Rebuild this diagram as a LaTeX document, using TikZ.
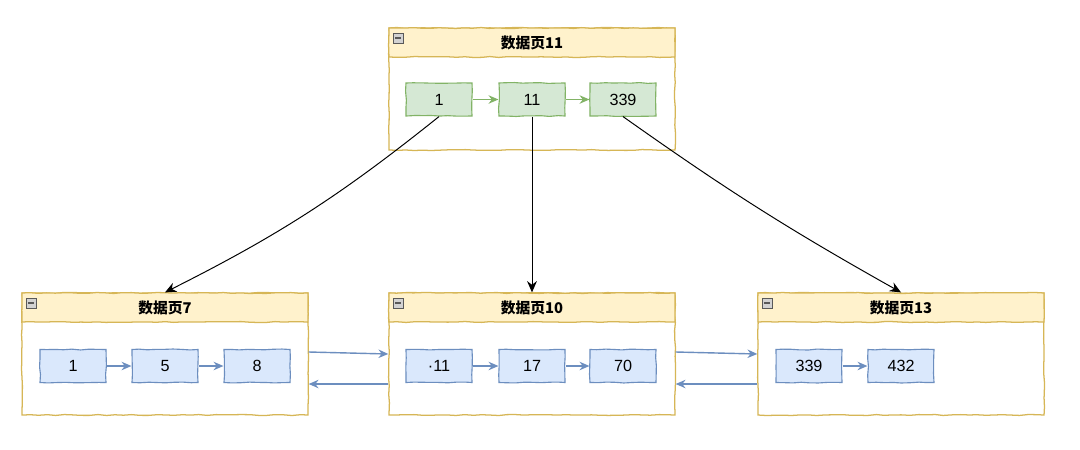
\documentclass[tikz,border=0pt]{standalone}
\usepackage{fontspec}
\setmainfont{Liberation Sans}
\newfontfamily\cjk{Noto Sans CJK SC}
\usetikzlibrary{arrows.meta,decorations.pathmorphing}
\definecolor{pageline}{HTML}{D6B656}
\definecolor{pagehead}{HTML}{FFF2CC}
\definecolor{greenfill}{HTML}{D5E8D4}
\definecolor{greenline}{HTML}{82B366}
\definecolor{bluefill}{HTML}{DAE8FC}
\definecolor{blueline}{HTML}{6C8EBF}
\begin{document}
\begin{tikzpicture}[x=0.025cm,y=-0.025cm,
    sketch/.style={decoration={random steps,segment length=6pt,amplitude=0.35pt},decorate},
    page node/.style={rectangle,draw=pageline,fill=white,line width=0.9pt,sketch,minimum width=7.15cm,minimum height=3.05cm,inner sep=0pt},
    head node/.style={rectangle,draw=pageline,fill=pagehead,line width=0.9pt,sketch,minimum width=7.15cm,minimum height=0.725cm,inner sep=0pt,font=\cjk\bfseries\fontsize{10.5}{12}\selectfont},
    green node/.style={rectangle,draw=greenline,fill=greenfill,line width=0.8pt,sketch,minimum width=1.65cm,minimum height=0.825cm,font=\fontsize{11.5}{13}\selectfont},
    blue node/.style={rectangle,draw=blueline,fill=bluefill,line width=0.8pt,sketch,minimum width=1.65cm,minimum height=0.825cm,font=\fontsize{11.5}{13}\selectfont},
    minus node/.style={rectangle,draw=gray!70!black,fill=gray!35,line width=0.4pt,minimum size=0.24cm,inner sep=0pt,
        path picture={\draw[line width=0.8pt] ([xshift=1.5pt]path picture bounding box.west) -- ([xshift=-1.5pt]path picture bounding box.east);}},
    green arrow/.style={color=greenline,line width=1pt,-{Stealth[length=7pt,width=6pt]}},
    blue arrow/.style={color=blueline,line width=1pt,-{Stealth[length=7pt,width=6pt]}},
    black arrow/.style={color=black,line width=0.7pt,-{Stealth[length=8pt,width=7pt]}}]
    \useasboundingbox (0,0) rectangle (1080,449);

    % pages
    \node[page node] at (532, 89) (p11) {};
    \node[head node] at (532, 42.5) (h11) {数据页11};
    \node[page node] at (165, 354) (p7) {};
    \node[head node] at (165, 307.5) (h7) {数据页7};
    \node[page node] at (532, 354) (p10) {};
    \node[head node] at (532, 307.5) (h10) {数据页10};
    \node[page node] at (901, 354) (p13) {};
    \node[head node] at (901, 307.5) (h13) {数据页13};
    \node[minus node] at (398, 38) (m11) {};
    \node[minus node] at (31, 303) (m7) {};
    \node[minus node] at (398, 303) (m10) {};
    \node[minus node] at (767, 303) (m13) {};

    % records
    \node[green node] at (439, 99.5) (a1) {1};
    \node[green node] at (532, 99.5) (a2) {11};
    \node[green node] at (623, 99.5) (a3) {339};
    \node[blue node] at (73, 366) (b1) {1};
    \node[blue node] at (165, 366) (b2) {5};
    \node[blue node] at (257, 366) (b3) {8};
    \node[blue node] at (439, 366) (c1) {·11};
    \node[blue node] at (532, 366) (c2) {17};
    \node[blue node] at (623, 366) (c3) {70};
    \node[blue node] at (809, 366) (d1) {339};
    \node[blue node] at (901, 366) (d2) {432};

    \path[green arrow]
        (a1) edge (a2)
        (a2) edge (a3);
    \path[blue arrow]
        (b1) edge (b2)
        (b2) edge (b3)
        (c1) edge (c2)
        (c2) edge (c3)
        (d1) edge (d2)
        ([yshift=0.05cm]p7.east) edge (p10.west)
        ([yshift=-0.75cm]p10.west) edge ([yshift=-0.75cm]p7.east)
        ([yshift=0.05cm]p10.east) edge (p13.west)
        ([yshift=-0.75cm]p13.west) edge ([yshift=-0.75cm]p10.east);
    \path[black arrow]
        (a1.south) edge[bend left=6] (h7.north)
        (a2.south) edge (h10.north)
        (a3.south) edge[bend right=3] (h13.north);
\end{tikzpicture}
\end{document}
